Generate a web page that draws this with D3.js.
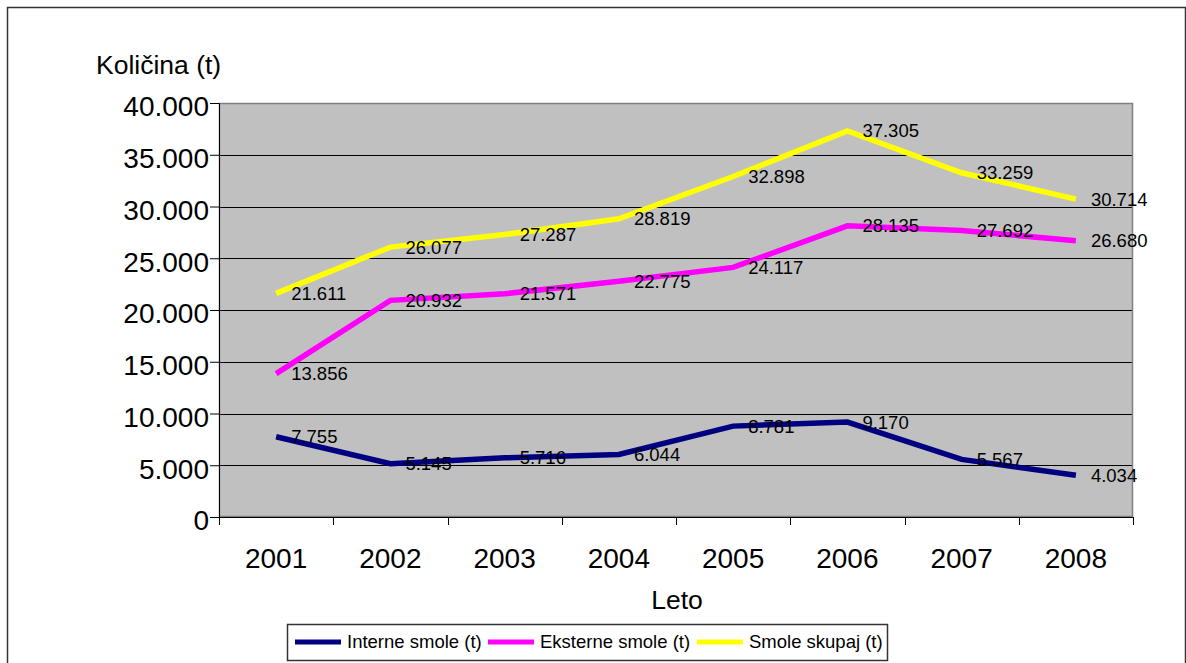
<!DOCTYPE html>
<html>
<head>
<meta charset="utf-8">
<script src="https://cdn.jsdelivr.net/npm/d3@7"></script>
<style>
  body { margin: 0; background: #fff; font-family: "Liberation Sans", Arial, sans-serif; }
  svg text { font-family: "Liberation Sans", Arial, sans-serif; fill: #000; }
</style>
</head>
<body>
<div id="chart"></div>
<script>
// data
var years = ["2001", "2002", "2003", "2004", "2005", "2006", "2007", "2008"];
var interne = [7755, 5145, 5716, 6044, 8781, 9170, 5567, 4034];
var eksterne = [13856, 20932, 21571, 22775, 24117, 28135, 27692, 26680];
var skupaj = [21611, 26077, 27287, 28819, 32898, 37305, 33259, 30714];
var yTicks = [0, 5000, 10000, 15000, 20000, 25000, 30000, 35000, 40000];

var seriesNames = ["Interne smole (t)", "Eksterne smole (t)", "Smole skupaj (t)"];
var seriesColors = ["#000080", "#FF00FF", "#FFFF00"];

var series = [interne, eksterne, skupaj].map(function(vals, i) {
    return { name: seriesNames[i], color: seriesColors[i], values: vals };
});

var W = 1186, H = 663;
var margin = { top: 103, right: 53, bottom: 146, left: 219 };
var width = W - margin.left - margin.right,
    height = H - margin.top - margin.bottom;

var locale = d3.formatLocale({ decimal: ",", thousands: ".", grouping: [3], currency: ["", ""] });
var fmt = locale.format(",d");

var svg = d3.select("#chart").append("svg")
    .attr("width", W)
    .attr("height", H);

// outer frame
svg.append("rect")
    .attr("x", 7.5).attr("y", 7.5)
    .attr("width", 1178).attr("height", 670)
    .attr("fill", "none")
    .attr("stroke", "#333")
    .attr("stroke-width", 1.5);

var g = svg.append("g")
    .attr("transform", "translate(" + margin.left + "," + margin.top + ")");

// scales
var x = d3.scaleBand().domain(years).range([0, width]);
var y = d3.scaleLinear().domain([0, 40000]).range([height, 0]);

// plot area
g.append("rect")
    .attr("width", width).attr("height", height)
    .attr("fill", "#C0C0C0");

// gridlines
g.selectAll(".grid")
    .data(yTicks.slice(1, -1))
    .enter().append("line")
    .attr("class", "grid")
    .attr("x1", 0).attr("x2", width)
    .attr("y1", function(d) { return Math.round(y(d)) + 0.5; })
    .attr("y2", function(d) { return Math.round(y(d)) + 0.5; })
    .attr("stroke", "#000")
    .attr("stroke-width", 1);

g.append("rect")
    .attr("x", 0.5).attr("y", 0.5)
    .attr("width", width - 1).attr("height", height - 1)
    .attr("fill", "none")
    .attr("stroke", "#808080")
    .attr("stroke-width", 1.5);

// y axis
var yAxis = d3.axisLeft(y)
    .tickValues(yTicks)
    .tickSize(9)
    .tickPadding(1)
    .tickFormat(function(d) { return d === 0 ? "0" : fmt(d); });

var ya = g.append("g").attr("class", "y-axis").call(yAxis);
ya.select(".domain").attr("stroke", "#000");
ya.selectAll("line").attr("stroke", "#000");
ya.selectAll("text").style("font-size", "28px").attr("dy", "0.46em");

// x axis: ticks at category boundaries
var xa = g.append("g")
    .attr("class", "x-axis")
    .attr("transform", "translate(0," + height + ")");

xa.append("line")
    .attr("x1", 0).attr("x2", width)
    .attr("y1", 0.5).attr("y2", 0.5)
    .attr("stroke", "#000");

xa.selectAll(".xtick")
    .data(years.concat(["end"]))
    .enter().append("line")
    .attr("class", "xtick")
    .attr("x1", function(d, i) { return Math.round(i * x.step()) + 0.5; })
    .attr("x2", function(d, i) { return Math.round(i * x.step()) + 0.5; })
    .attr("y1", 0).attr("y2", 8)
    .attr("stroke", "#000");

xa.selectAll(".xlabel")
    .data(years)
    .enter().append("text")
    .attr("class", "xlabel")
    .attr("x", function(d) { return x(d) + x.bandwidth() / 2; })
    .attr("y", 51)
    .attr("text-anchor", "middle")
    .style("font-size", "28px")
    .text(function(d) { return d; });

// axis titles
svg.append("text")
    .attr("x", 96).attr("y", 74)
    .style("font-size", "26.5px")
    .text("Količina (t)");

svg.append("text")
    .attr("x", margin.left + width / 2 + 1).attr("y", 609)
    .attr("text-anchor", "middle")
    .style("font-size", "26.5px")
    .text("Leto");

// lines
var line = d3.line()
    .x(function(d, i) { return x(years[i]) + x.bandwidth() / 2; })
    .y(function(d) { return y(d); });

g.selectAll(".line")
    .data(series)
    .enter().append("path")
    .attr("class", "line")
    .attr("d", function(d) { return line(d.values); })
    .attr("fill", "none")
    .attr("stroke", function(d) { return d.color; })
    .attr("stroke-width", 5.5)
    .attr("stroke-linejoin", "miter");

// value labels
series.forEach(function(s) {
    g.selectAll(null)
        .data(s.values)
        .enter().append("text")
        .attr("x", function(d, i) { return x(years[i]) + x.bandwidth() / 2 + 15; })
        .attr("y", function(d) { return y(d); })
        .attr("dy", "0.35em")
        .style("font-size", "18.5px")
        .text(function(d) { return fmt(d); });
});

// legend
var legend = svg.append("g").attr("transform", "translate(287,624)");
legend.append("rect")
    .attr("x", 0.5).attr("y", 0.5)
    .attr("width", 600).attr("height", 36)
    .attr("fill", "#fff")
    .attr("stroke", "#333")
    .attr("stroke-width", 1.5);

var legendX = [8, 201, 410];
series.forEach(function(s, i) {
    var item = legend.append("g").attr("transform", "translate(" + legendX[i] + ",18)");
    item.append("line")
        .attr("x1", 0).attr("x2", 46)
        .attr("y1", 0).attr("y2", 0)
        .attr("stroke", s.color)
        .attr("stroke-width", 5);
    item.append("text")
        .attr("x", 52).attr("y", 0)
        .attr("dy", "0.35em")
        .style("font-size", "18.5px")
        .text(s.name);
});
</script>
</body>
</html>
